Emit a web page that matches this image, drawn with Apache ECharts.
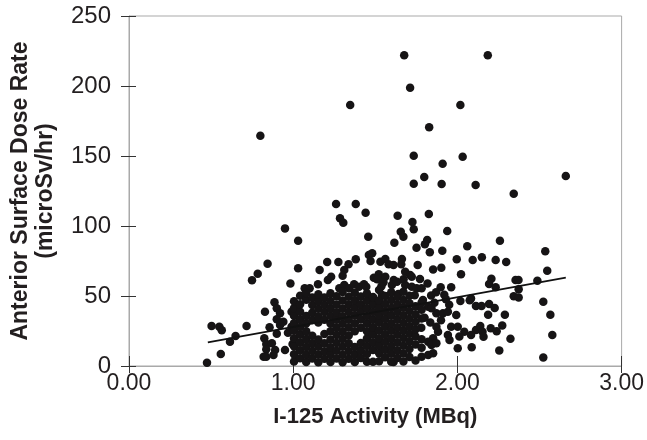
<!DOCTYPE html>
<html>
<head>
<meta charset="utf-8">
<script src="https://cdn.jsdelivr.net/npm/echarts@6/dist/echarts.min.js"></script>
<style>
  html, body { margin: 0; padding: 0; background: #ffffff; }
  #chart { width: 647px; height: 440px; }
</style>
</head>
<body>
<div id="chart"></div>
<script>
// Axis ranges and tick labels
const xTicks = [0, 1, 2, 3];
const yTicks = [0, 50, 100, 150, 200, 250];
const xTitle = 'I-125 Activity (MBq)';
const yTitle = 'Anterior Surface Dose Rate\n(microSv/hr)';

// Least-squares trend line: dose = intercept + slope * activity
const fitSlope = 21.2;
const fitIntercept = 6.74;
const fitRange = [0.48, 2.66];

// Measurements [activity MBq, dose rate microSv/hr]
const highDose = [
  [0.80,164.5],[1.676,222],[2.185,222],[1.712,198.8],[1.347,186.4],[2.018,186.4],[1.828,170.5],
  [1.734,150.2],[2.032,149.5],[1.910,144.5],[1.798,135],[1.734,130.2],[1.904,130],[2.111,129.3],
  [2.660,135.7],[2.343,123.1],[1.261,115.7],[1.381,115.7],[1.441,109.5],[1.285,105.5],[1.305,102.4],
  [1.636,107.4],[1.826,108.6],[1.726,102.9]
];

const upperBand = [
  [0.950,98.3],[1.030,89.5],[0.844,73.1],[0.784,65.9],[0.749,61.2],[1.030,69.8],[1.457,92.4],
  [1.734,97.6],[1.655,95.9],[1.671,92.4],[1.938,96.4],[1.616,88.1],[1.816,90.0],[1.802,86.9],
  [1.751,84.5],[1.832,81.2],[1.908,82.4],[2.060,85.5],[1.996,76.2],[2.093,75.7],[2.259,89.5],
  [2.149,77.6],[2.233,75.7],[2.297,74.3],[2.535,81.9],[2.547,68.1],[1.461,79.3],[1.481,80.5],
  [1.381,76.2],[1.531,74.5],[1.561,76.5],[1.207,74.3],[1.275,74.3],[1.337,72.6],[1.311,68.6],
  [1.161,68.6],[1.231,63.8],[1.211,61.4],[1.301,64.5],[1.471,75.0],[1.581,72.6],[1.611,72.1],
  [1.662,76.4],[1.658,72.6],[1.758,72.1],[1.852,69.0],[1.902,70.2],[2.022,65.5],[1.521,65.5],
  [1.541,62.6],[1.561,63.8],[1.682,67.4],[1.712,65.0],[1.722,63.8],[1.772,62.1],[1.491,63.1],
  [1.612,61.4],[1.672,61.9],[2.207,62.4],[2.354,61.4],[2.372,61.4],[2.487,60.9],[1.511,61.9]
];

const midBand = [
  [0.983,59.0],[1.070,55.5],[1.100,55.5],[1.151,58.4],[1.281,55.5],[1.311,57.9],[1.341,55.5],
  [1.371,58.4],[1.401,56.6],[1.431,58.4],[1.445,56.6],[1.550,59.8],[1.537,57.0],[1.601,57.9],
  [1.632,60.2],[1.682,57.9],[1.722,56.6],[1.752,55.5],[1.782,55.5],[1.818,59.0],[1.898,56.2],
  [1.962,56.2],[2.193,58.6],[2.233,56.2],[2.373,54.8],[2.343,49.8],[2.373,49.0],[2.083,48.3],
  [2.523,45.9],[2.113,42.9],[2.147,42.9],[2.193,44.3],[2.227,41.4],[2.018,46.5],[2.075,47.0],
  [1.54,50.8],[1.64,51.5],[1.74,50.6],[1.84,50.4],[1.92,50.9],[1.79,47.2],[1.86,45.1],[1.95,43.8],
  [1.872,37.6],[1.912,37.6],[1.942,38.8],[1.993,36.4],[1.822,42.4],[1.842,41.2],[1.80,34.5],
  [1.835,31.0],[1.90,32.6],[1.78,27.4],[1.93,47.6],[1.87,52.7]
];

const rightLow = [
  [2.187,36.6],[2.289,36.6],[2.566,36.6],[2.273,29.0],[2.139,28.6],[2.203,26.9],[2.239,24.8],
  [2.323,19.5],[2.578,22.1],[2.087,13.4],[2.255,11.0],[2.523,6.0],[2.113,25.7],[2.083,22.1],
  [2.153,24.5],[2.159,20.9],[2.002,12.6],[1.962,28.1],[2.002,28.1],[2.042,24.5],[2.012,21.0],
  [1.942,22.1],[1.952,18.6],[1.872,28.1],[1.882,24.5],[1.852,19.8],[1.822,17.4],[1.842,15.0],
  [1.872,16.2],[1.822,7.9],[1.782,6.6],[1.852,9.1],[1.611,2.8]
];

const lowLeft = [
  [0.475,2.4],[0.503,28.6],[0.55,28.0],[0.565,25.5],[0.559,8.6],[0.615,17.4],[0.649,21.5],
  [0.716,28.6],[0.828,38.8],[0.886,45.5],[0.90,41.2],[0.92,37.6],[0.90,33.4],[0.99,38.8],
  [0.856,27.6],[0.92,29.3],[0.94,31.6],[0.90,23.0],[0.968,23.8],[0.99,28.0],[0.824,19.8],
  [0.836,15.7],[0.87,16.2],[0.836,11.9],[0.89,11.4],[0.88,7.9],[0.95,11.4],[0.996,15.7],
  [0.82,6.6],[0.836,6.6]
];

const coreCluster = [
  [1.005,3.2],[1.005,8.4],[1.005,14.1],[1.005,19.8],[1.005,25.3],[1.005,30.6],[1.005,35.9],[1.005,41.2],[1.005,46.3],
  [1.042,5.6],[1.042,11.2],[1.042,16.7],[1.042,22.4],[1.042,27.8],[1.042,33.4],[1.042,38.7],[1.042,44.1],[1.042,50.2],
  [1.079,2.9],[1.079,8.1],[1.079,13.6],[1.079,19.2],[1.079,24.9],[1.079,30.3],[1.079,35.7],[1.079,47.4],[1.079,52.1],
  [1.116,5.3],[1.116,10.8],[1.116,16.3],[1.116,21.6],[1.116,32.8],[1.116,38.1],[1.116,43.6],[1.116,49.0],
  [1.153,2.7],[1.153,8.2],[1.153,13.7],[1.153,19.0],[1.153,31.0],[1.153,35.4],[1.153,40.9],[1.153,46.2],[1.153,51.3],
  [1.19,5.1],[1.19,10.6],[1.19,16.3],[1.19,22.8],[1.19,33.1],[1.19,38.6],[1.19,43.8],[1.19,48.9],
  [1.227,2.8],[1.227,8.3],[1.227,13.4],[1.227,19.0],[1.227,24.9],[1.227,30.4],[1.227,35.9],[1.227,41.3],[1.227,46.5],[1.227,52.0],
  [1.264,5.4],[1.264,10.9],[1.264,16.5],[1.264,22.1],[1.264,27.6],[1.264,33.2],[1.264,38.4],[1.264,44.0],[1.264,49.8],
  [1.301,2.6],[1.301,8.0],[1.301,13.8],[1.301,19.3],[1.301,24.7],[1.301,30.1],[1.301,35.5],[1.301,41.0],[1.301,46.8],[1.301,52.8],
  [1.338,5.2],[1.338,10.7],[1.338,16.2],[1.338,21.8],[1.338,27.5],[1.338,33.0],[1.338,38.6],[1.338,44.0],[1.338,49.5],
  [1.375,2.9],[1.375,8.3],[1.375,13.6],[1.375,24.8],[1.375,30.5],[1.375,36.2],[1.375,41.6],[1.375,46.9],[1.375,52.4],
  [1.412,5.7],[1.412,11.1],[1.412,16.5],[1.412,27.3],[1.412,33.3],[1.412,38.8],[1.412,44.1],[1.412,49.6],
  [1.449,3.1],[1.449,8.5],[1.449,14.3],[1.449,19.6],[1.449,24.8],[1.449,30.4],[1.449,35.7],[1.449,41.3],[1.449,46.6],[1.449,52.0],
  [1.486,3.0],[1.486,11.4],[1.486,16.8],[1.486,22.3],[1.486,27.7],[1.486,33.1],[1.486,38.5],[1.486,43.9],[1.486,49.2],
  [1.523,3.4],[1.523,9.2],[1.523,14.4],[1.523,19.9],[1.523,25.3],[1.523,30.9],[1.523,36.2],[1.523,41.6],[1.523,46.8],[1.523,54.3],
  [1.56,6.3],[1.56,11.6],[1.56,17.1],[1.56,22.6],[1.56,28.0],[1.56,33.5],[1.56,38.9],[1.56,44.3],[1.56,50.0],
  [1.597,3.0],[1.597,8.7],[1.597,14.2],[1.597,19.6],[1.597,25.1],[1.597,30.5],[1.597,36.0],[1.597,41.4],[1.597,47.1],[1.597,52.6],
  [1.634,5.8],[1.634,11.3],[1.634,16.8],[1.634,22.3],[1.634,27.7],[1.634,33.2],[1.634,38.6],[1.634,44.0],[1.634,49.3],
  [1.671,3.3],[1.671,8.9],[1.671,14.5],[1.671,20.0],[1.671,25.4],[1.671,30.8],[1.671,36.3],[1.671,41.7],[1.671,47.2],[1.671,53.1],
  [1.708,6.5],[1.708,12.1],[1.708,17.6],[1.708,23.0],[1.708,28.4],[1.708,33.8],[1.708,39.3],[1.708,44.8],[1.708,50.1],
  [1.745,4.0],[1.745,15.4],[1.745,21.0],[1.745,26.2],[1.745,31.5],[1.745,37.0],[1.745,42.6],
  [1.782,13.0],[1.782,19.1],[1.782,34.0],[1.782,40.1],[1.782,45.3]
];

const allPoints = [].concat(highDose, upperBand, midBand, rightLow, lowLeft, coreCluster);
const trendLine = fitRange.map(x => [x, fitIntercept + fitSlope * x]);

const textColor = '#231f20';
const frameColor = '#a9a9a9';
const tickColor = '#333333';
const fontFamily = '"Liberation Sans", Arial, Helvetica, sans-serif';

function valueAxis(range, ticks, extra) {
  return Object.assign({
    type: 'value',
    min: range[0],
    max: range[1],
    interval: ticks[1] - ticks[0],
    splitLine: { show: false }
  }, extra);
}

const chart = echarts.init(document.getElementById('chart'), null, { renderer: 'canvas' });
chart.setOption({
  animation: false,
  backgroundColor: '#ffffff',
  grid: {
    left: 127, right: 21, top: 16, bottom: 74,
    show: true, borderColor: frameColor, borderWidth: 1, backgroundColor: 'transparent'
  },
  xAxis: [
    valueAxis([xTicks[0], xTicks[xTicks.length - 1]], xTicks, {
      position: 'bottom',
      axisLine: { show: true, lineStyle: { color: frameColor, width: 1 } },
      axisTick: { show: true, inside: false, length: 7, lineStyle: { color: tickColor, width: 1 } },
      axisLabel: {
        show: true, margin: 6, fontSize: 23, color: textColor, fontFamily: fontFamily,
        formatter: v => v.toFixed(2)
      },
      name: xTitle,
      nameLocation: 'middle',
      nameGap: 40,
      nameTextStyle: { fontSize: 22, fontWeight: 'bold', color: textColor, fontFamily: fontFamily }
    }),
    valueAxis([xTicks[0], xTicks[xTicks.length - 1]], xTicks, {
      position: 'bottom',
      axisLine: { show: false },
      axisTick: { show: true, inside: true, length: 10, lineStyle: { color: tickColor, width: 1 } },
      axisLabel: { show: false }
    })
  ],
  yAxis: [
    valueAxis([yTicks[0], yTicks[yTicks.length - 1]], yTicks, {
      position: 'left',
      axisLine: { show: true, lineStyle: { color: frameColor, width: 1 } },
      axisTick: { show: true, inside: false, length: 8, lineStyle: { color: tickColor, width: 1 } },
      axisLabel: { show: true, margin: 18, fontSize: 24, color: textColor, fontFamily: fontFamily },
      name: yTitle,
      nameLocation: 'middle',
      nameGap: 71,
      nameRotate: 90,
      nameTextStyle: { fontSize: 23, fontWeight: 'bold', color: textColor, fontFamily: fontFamily, lineHeight: 25, align: 'center' }
    }),
    valueAxis([yTicks[0], yTicks[yTicks.length - 1]], yTicks, {
      position: 'left',
      axisLine: { show: false },
      axisTick: { show: true, inside: true, length: 7, lineStyle: { color: tickColor, width: 1 } },
      axisLabel: { show: false }
    })
  ],
  series: [
    {
      type: 'scatter',
      xAxisIndex: 0, yAxisIndex: 0,
      data: allPoints,
      symbol: 'circle',
      symbolSize: 8.5,
      itemStyle: { color: '#161415', opacity: 1 },
      silent: true
    },
    {
      type: 'line',
      xAxisIndex: 0, yAxisIndex: 0,
      data: trendLine,
      symbol: 'none',
      lineStyle: { color: '#111111', width: 1.8 },
      silent: true,
      z: 3
    }
  ]
});
</script>
</body>
</html>
